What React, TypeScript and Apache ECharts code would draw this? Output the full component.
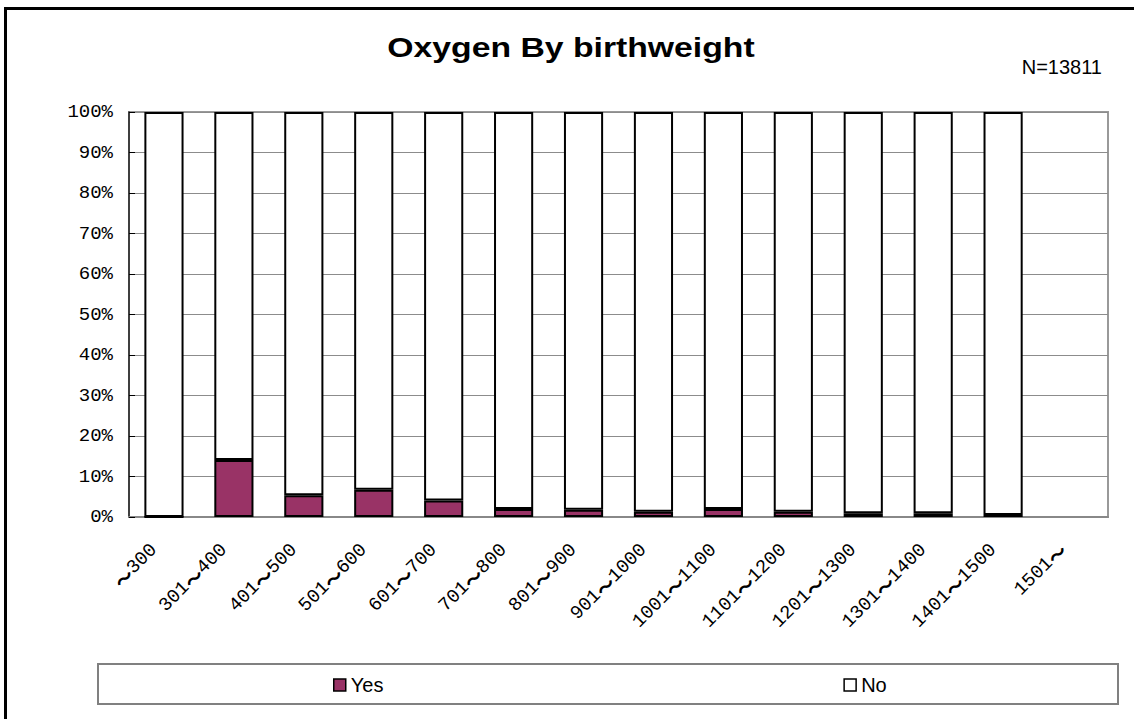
import React, { useEffect, useRef } from "react";
import * as echarts from "echarts";

const categories = [
  "～300", "301～400", "401～500", "501～600", "601～700", "701～800", "801～900",
  "901～1000", "1001～1100", "1101～1200", "1201～1300", "1301～1400", "1401～1500", "1501～",
];
const yesPct: (number | null)[] = [0, 14.1, 5.4, 6.7, 4.1, 2.0, 1.8, 1.3, 2.0, 1.3, 0.9, 0.9, 0.5, null];
const noPct: (number | null)[] = yesPct.map((v) => (v === null ? null : +(100 - v).toFixed(1)));
const yTicks = [0, 10, 20, 30, 40, 50, 60, 70, 80, 90, 100];
const titleText = "Oxygen By birthweight";
const nText = "N=13811";

const MONO = '"Liberation Mono", "DejaVu Sans Mono", monospace';
const CJK = '"Noto Sans CJK JP", sans-serif';
const SANS = '"Liberation Sans", Arial, sans-serif';

export default function App() {
  const ref = useRef<HTMLDivElement>(null);
  useEffect(() => {
    if (!ref.current) return;
    const chart = echarts.init(ref.current, null, { renderer: "svg" });
    chart.setOption({
      animation: false,
      backgroundColor: "#fff",
      grid: {
        left: 129, top: 112, right: 26, bottom: 202,
        show: true, borderColor: "#999", borderWidth: 2, backgroundColor: "transparent",
      },
      legend: {
        left: 328, top: 670,
        itemWidth: 12, itemHeight: 12, itemGap: 460,
        icon: "rect",
        textStyle: { fontFamily: SANS, fontSize: 20, color: "#000" },
        itemStyle: { borderColor: "#000", borderWidth: 1.5 },
        data: ["Yes", "No"],
      },
      xAxis: {
        type: "category",
        data: categories,
        axisLine: { lineStyle: { color: "#888", width: 2 } },
        axisTick: { inside: true, length: 5, lineStyle: { color: "#333", width: 1 } },
        axisLabel: {
          rotate: 45, interval: 0, margin: 20, padding: [0, 14, 0, 0],
          fontFamily: MONO, fontSize: 19, color: "#000",
          formatter: (v: string) => v.split("～").join("{t|～}"),
          rich: { t: { fontFamily: CJK, fontSize: 19, color: "#000", fontWeight: "bold" } },
        },
        splitLine: { show: false },
      },
      yAxis: {
        type: "value",
        min: yTicks[0], max: yTicks[yTicks.length - 1], interval: 10,
        axisLine: { show: true, lineStyle: { color: "#222", width: 1.5 } },
        axisTick: { show: true, inside: true, length: 6, lineStyle: { color: "#000" } },
        axisLabel: { formatter: "{value}%", margin: 16, fontFamily: MONO, fontSize: 19, color: "#000" },
        splitLine: { show: true, lineStyle: { color: "#8c8c8c", width: 1 } },
      },
      series: [
        {
          name: "Yes", type: "bar", stack: "total", data: yesPct, barWidth: "56%",
          itemStyle: { color: "#993366", borderColor: "#000", borderWidth: 2 },
        },
        {
          name: "No", type: "bar", stack: "total", data: noPct, barWidth: "56%",
          itemStyle: { color: "#ffffff", borderColor: "#000", borderWidth: 2 },
        },
      ],
      graphic: [
        {
          type: "rect", z: 100,
          shape: { x: 5.5, y: 8.5, width: 1400, height: 1000 },
          style: { fill: "none", stroke: "#000", lineWidth: 3 },
          silent: true,
        },
        {
          type: "text", x: 571, y: 47, scaleX: 1.25,
          style: {
            text: titleText, font: "bold 27px " + SANS, fill: "#000",
            align: "center", verticalAlign: "middle", textAlign: "center", textVerticalAlign: "middle",
          },
        },
        {
          type: "text", x: 1102, y: 67,
          style: {
            text: nText, font: "20px " + SANS, fill: "#000",
            align: "right", verticalAlign: "middle", textAlign: "right", textVerticalAlign: "middle",
          },
        },
        {
          type: "rect", z: -1,
          shape: { x: 98, y: 664, width: 1020, height: 40 },
          style: { fill: "none", stroke: "#808080", lineWidth: 2 },
          silent: true,
        },
      ],
    });
    return () => chart.dispose();
  }, []);
  return (
    <div
      ref={ref}
      style={{ position: "absolute", left: 0, top: 0, width: 1134, height: 719 }}
    />
  );
}
